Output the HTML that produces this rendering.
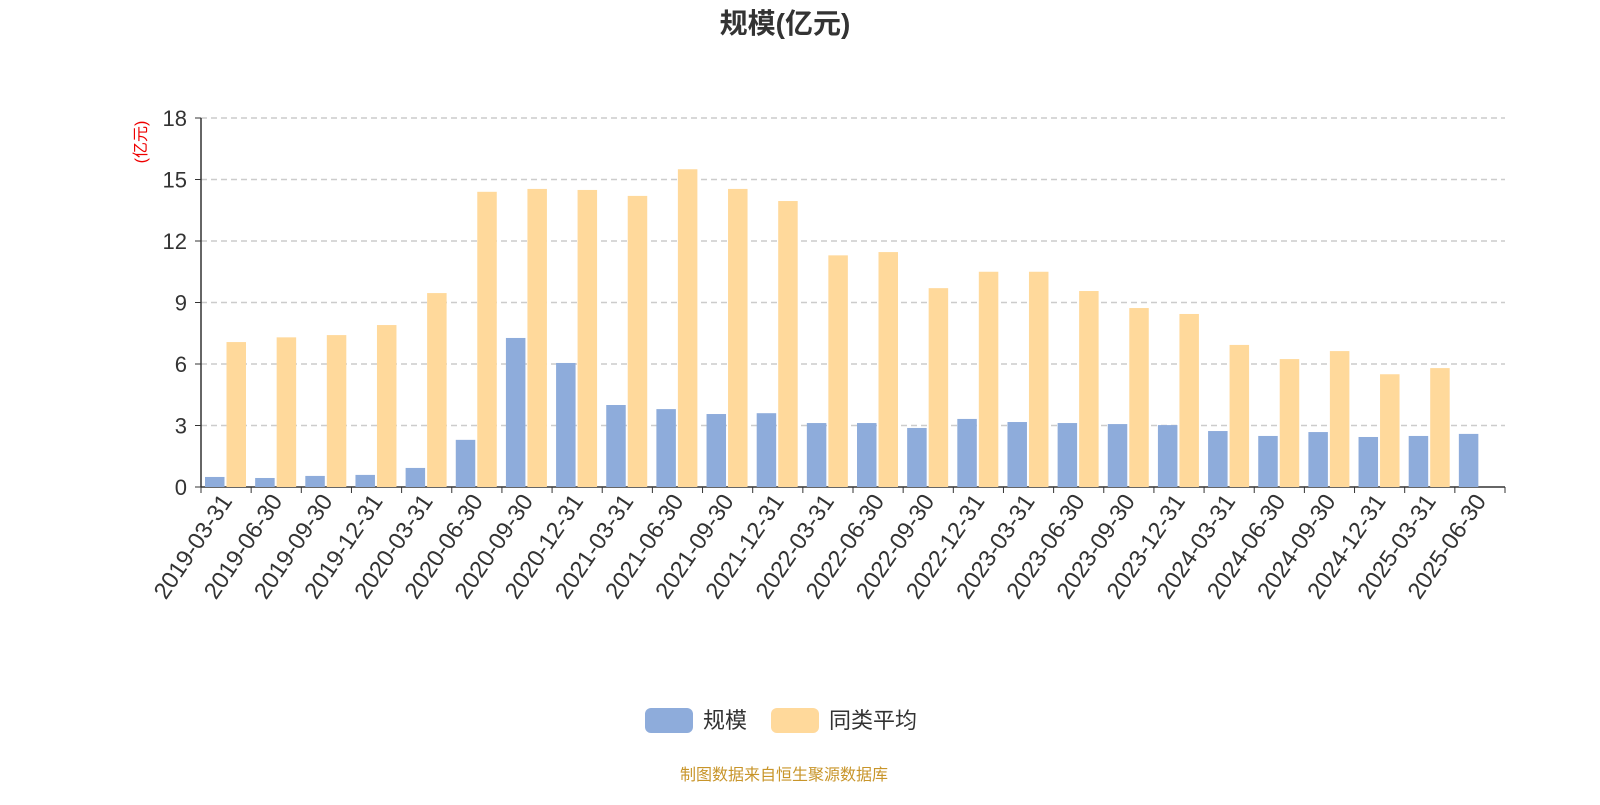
<!DOCTYPE html>
<html><head><meta charset="utf-8"><style>
body{margin:0;background:#fff;width:1600px;height:800px;overflow:hidden;font-family:"Liberation Sans","Noto Sans CJK SC",sans-serif}
</style></head><body>
<svg id="c" width="1600" height="800" font-family="Liberation Sans, Noto Sans CJK SC, sans-serif"></svg>
<script>
const categories=["2019-03-31","2019-06-30","2019-09-30","2019-12-31","2020-03-31","2020-06-30","2020-09-30","2020-12-31","2021-03-31","2021-06-30","2021-09-30","2021-12-31","2022-03-31","2022-06-30","2022-09-30","2022-12-31","2023-03-31","2023-06-30","2023-09-30","2023-12-31","2024-03-31","2024-06-30","2024-09-30","2024-12-31","2025-03-31","2025-06-30"];
const scaleValues=[0.49,0.44,0.54,0.59,0.93,2.3,7.27,6.05,4.0,3.8,3.56,3.6,3.12,3.12,2.88,3.32,3.17,3.12,3.07,3.02,2.73,2.49,2.68,2.44,2.49,2.59];
const avgValues=[7.07,7.3,7.41,7.9,9.46,14.4,14.54,14.49,14.2,15.5,14.54,13.95,11.3,11.46,9.7,10.5,10.5,9.56,8.73,8.44,6.93,6.24,6.63,5.5,5.8,null];
const yTicks=[0,3,6,9,12,15,18];
const svg=document.getElementById('c');const NS='http://www.w3.org/2000/svg';
function mk(t,a,p){const e=document.createElementNS(NS,t);for(const k in a)e.setAttribute(k,a[k]);(p||svg).appendChild(e);return e;}
const X0=201,X1=1505,Y0=487,Y1=118,YMAX=18;
const cw=(X1-X0)/categories.length;
const y=v=>Y0-(v/YMAX)*(Y0-Y1);
const t=mk('text',{x:785,y:33,'text-anchor':'middle','font-size':28,'font-weight':'bold',fill:'#333'});t.textContent='规模(亿元)';

const u=mk('text',{x:0,y:0,transform:'translate(146,142) rotate(-90)','text-anchor':'middle','font-size':16,fill:'#e00'});u.textContent='(亿元)';

yTicks.forEach(v=>{
 if(v>0){const g=mk('line',{x1:X0,x2:X1,y1:y(v),y2:y(v),stroke:'#ccc','stroke-dasharray':'6,4','stroke-width':1.5});}
 mk('line',{x1:X0-6,x2:X0,y1:y(v),y2:y(v),stroke:'#333'});
 const l=mk('text',{x:X0-14,y:y(v)+8,'text-anchor':'end','font-size':22,fill:'#333'});l.textContent=v;
 
});
mk('line',{x1:X0,x2:X0,y1:Y1,y2:Y0,stroke:'#333','stroke-width':1.5});
mk('line',{x1:X0,x2:X1,y1:Y0,y2:Y0,stroke:'#333','stroke-width':1.5});
for(let i=0;i<=categories.length;i++)mk('line',{x1:X0+i*cw,x2:X0+i*cw,y1:Y0,y2:Y0+6,stroke:'#333'});
categories.forEach((c,i)=>{
 const cx=X0+i*cw;
 const b=mk('rect',{x:cx+4,y:y(scaleValues[i]),width:19.5,height:Y0-y(scaleValues[i]),fill:'#8eacdb'});
 
 if(avgValues[i]!=null){const a=mk('rect',{x:cx+25.5,y:y(avgValues[i]),width:19.5,height:Y0-y(avgValues[i]),fill:'#ffd99b'});
 }
 const lx=cx+cw/2+7,ly=Y0+14;
 const l=mk('text',{x:0,y:0,transform:`translate(${lx},${ly}) rotate(-56)`,'text-anchor':'end','font-size':23.5,fill:'#333'});l.textContent=c;
 
});
const lg=mk('g',{});
const r1=mk('rect',{x:645,y:708,width:48,height:25,rx:6,fill:'#8eacdb'},lg);
const t1=mk('text',{x:703,y:728,'font-size':22,fill:'#333'},lg);t1.textContent='规模';
const r2=mk('rect',{x:771,y:708,width:48,height:25,rx:6,fill:'#ffd99b'},lg);
const t2=mk('text',{x:829,y:728,'font-size':22,fill:'#333'},lg);t2.textContent='同类平均';
const f=mk('text',{x:784,y:780,'text-anchor':'middle','font-size':16,fill:'#c8952a'});f.textContent='制图数据来自恒生聚源数据库';

</script>
</body></html>
